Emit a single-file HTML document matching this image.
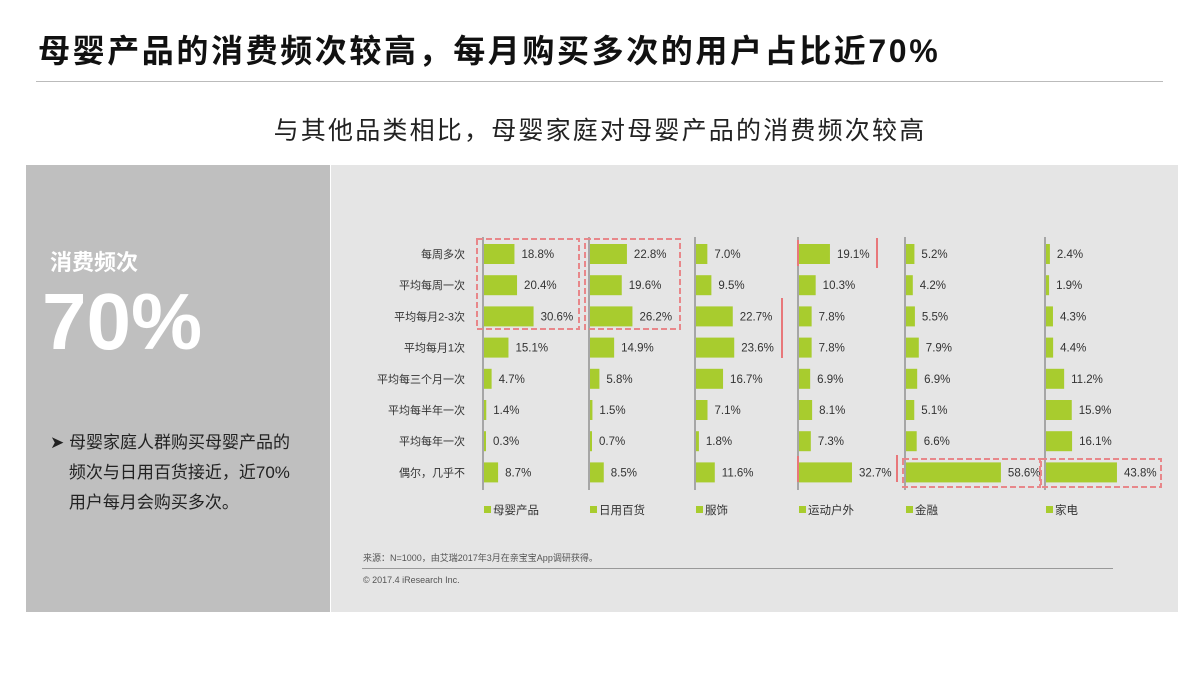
<!DOCTYPE html>
<html><head><meta charset="utf-8">
<style>
body{margin:0;width:1200px;height:675px;background:#fff;overflow:hidden;font-family:"Liberation Sans","Noto Sans CJK SC",sans-serif;position:relative}
.abs{position:absolute;white-space:nowrap}
</style></head><body>
<div class="abs" style="left:38px;top:26px;font-size:32px;font-weight:bold;color:#111;letter-spacing:2.6px">母婴产品的消费频次较高，每月购买多次的用户占比近70%</div>
<div class="abs" style="left:36px;top:81px;width:1127px;height:1px;background:#bbb"></div>
<div class="abs" style="left:0;width:1200px;text-align:center;top:111px;font-size:25px;color:#222;letter-spacing:2.2px">与其他品类相比，母婴家庭对母婴产品的消费频次较高</div>
<div class="abs" style="left:26px;top:165px;width:304px;height:447px;background:#bfbfbf"></div>
<div class="abs" style="left:331px;top:165px;width:847px;height:447px;background:#e5e5e5"></div>
<div class="abs" style="left:50px;top:245px;font-size:22px;font-weight:bold;color:#fff">消费频次</div>
<div class="abs" style="left:42px;top:282px;font-size:80px;font-weight:bold;color:#fff;line-height:1">70%</div>
<div class="abs" style="left:50px;top:428px;font-size:17px;color:#222;line-height:30px">➤ 母婴家庭人群购买母婴产品的<br>&nbsp;&nbsp;&nbsp;&nbsp;频次与日用百货接近，近70%<br>&nbsp;&nbsp;&nbsp;&nbsp;用户每月会购买多次。</div>
<svg class="abs" style="left:0;top:0" width="1200" height="675" id="chart"></svg>
<div class="abs" style="left:363px;top:551px;font-size:9px;color:#555">来源：N=1000，由艾瑞2017年3月在亲宝宝App调研获得。</div>
<div class="abs" style="left:362px;top:568px;width:751px;height:1px;background:#999"></div>
<div class="abs" style="left:363px;top:575px;font-size:9px;color:#555">© 2017.4 iResearch Inc.</div>
<script>
const categories=["每周多次","平均每周一次","平均每月2-3次","平均每月1次","平均每三个月一次","平均每半年一次","平均每年一次","偶尔，几乎不"];
const seriesNames=["母婴产品","日用百货","服饰","运动户外","金融","家电"];
const babyProducts=[18.8,20.4,30.6,15.1,4.7,1.4,0.3,8.7];
const dailyGoods=[22.8,19.6,26.2,14.9,5.8,1.5,0.7,8.5];
const clothing=[7.0,9.5,22.7,23.6,16.7,7.1,1.8,11.6];
const outdoor=[19.1,10.3,7.8,7.8,6.9,8.1,7.3,32.7];
const finance=[5.2,4.2,5.5,7.9,6.9,5.1,6.6,58.6];
const appliances=[2.4,1.9,4.3,4.4,11.2,15.9,16.1,43.8];
const allSeries=[babyProducts,dailyGoods,clothing,outdoor,finance,appliances];
const svg=document.getElementById('chart');
const NS='http://www.w3.org/2000/svg';
const colX=[483,589,695,798,905,1045];
const row0=254,rowStep=31.2,pxPer=1.62,barH=20;
const yOf=i=>row0+i*rowStep;
const wOf=v=>Math.max(v*pxPer,2);
function mk(tag,attrs){const e=document.createElementNS(NS,tag);for(const k in attrs)e.setAttribute(k,attrs[k]);svg.appendChild(e);return e;}
categories.forEach((c,i)=>{const t=mk('text',{x:465,y:yOf(i)+4,'text-anchor':'end','font-size':11,fill:'#333'});t.textContent=c;

});
allSeries.forEach((s,j)=>{const x0=colX[j];
const ax=mk('line',{x1:x0,x2:x0,y1:237,y2:490,stroke:'#666','stroke-width':1});


s.forEach((v,i)=>{const w=wOf(v);const r=mk('rect',{x:x0+1,y:yOf(i)-barH/2,width:w,height:barH,fill:'#a8cc2e'});


const t=mk('text',{x:x0+w+8,y:yOf(i)+4,'font-size':11.5,fill:'#333'});t.textContent=v.toFixed(1)+'%';

});
const lr=mk('rect',{x:x0+1,y:506,width:7,height:7,fill:'#a8cc2e'});


const lt=mk('text',{x:x0+10,y:514,'font-size':11.5,fill:'#333'});lt.textContent=seriesNames[j];

});
function box(x,y,w,h){const b=mk('rect',{x:x,y:y,width:w,height:h,fill:'none',stroke:'#e8878a','stroke-width':2,'stroke-dasharray':'6,3'});

}
box(477,239,102,90);box(585,239,95,90);box(903,459,137,28);box(1041,459,120,28);
function mark(x,y1,y2){const l=mk('line',{x1:x,x2:x,y1:y1,y2:y2,stroke:'#e8777a','stroke-width':2});

}
mark(782,298,358);mark(877,238,268);mark(897,455,482);mark(798,240,266);mark(798,456,482);
</script>
</body></html>
